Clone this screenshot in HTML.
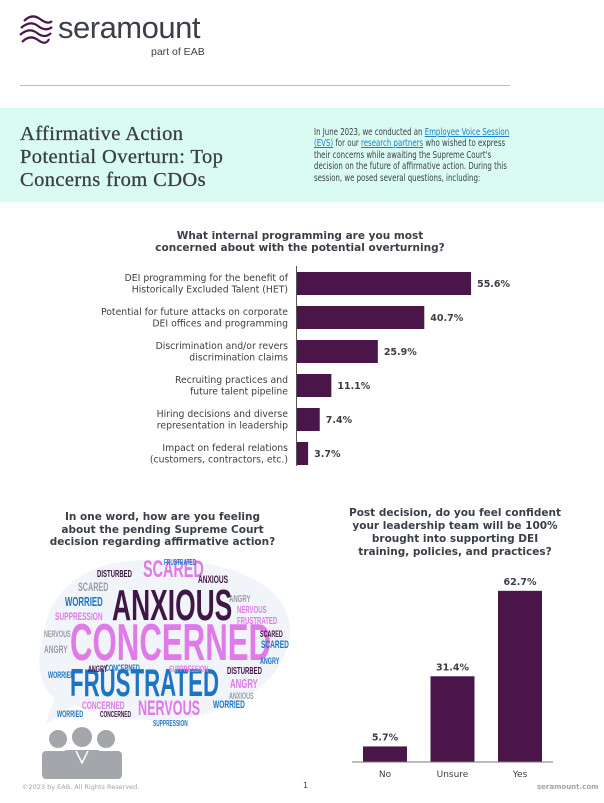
<!DOCTYPE html>
<html><head><meta charset="utf-8">
<style>
*{margin:0;padding:0;box-sizing:border-box}
body{width:604px;height:803px;background:#fff;position:relative;overflow:hidden;font-family:"DejaVu Sans","Liberation Sans",sans-serif;color:#3a3f4a}
.abs{position:absolute}
.wc span{position:absolute;font-family:"Liberation Sans Narrow","Liberation Sans",sans-serif;font-weight:bold;line-height:1;white-space:nowrap;transform-origin:0 0}
</style></head><body>
<div class="abs" style="left:18px;top:10px;width:240px;height:50px">
<svg width="36" height="38" style="position:absolute;left:0;top:1px">
<g fill="none" stroke="#4a1548" stroke-width="2.2">
<path d="M6 10 Q14 2 22 8 T34 10"/><path d="M3 17 Q12 9 20 15 T34 16"/><path d="M2 24 Q11 16 19 22 T33 22"/><path d="M4 31 Q12 23 20 29 T31 28"/></g></svg>
<div class="abs" style="left:40px;top:0px;font-family:'Liberation Sans',sans-serif;font-size:31px;color:#3b3f47;letter-spacing:-0.5px">seramount</div>
<div class="abs" style="left:133px;top:36px;font-family:'Liberation Sans',sans-serif;font-size:10.5px;color:#3b3f47">part of EAB</div>
</div>
<div class="abs" style="left:20px;top:85px;width:490px;height:1px;background:#b9bcc2"></div>
<div class="abs" style="left:0;top:108px;width:604px;height:94px;background:#dafbf1"></div>
<div class="abs" style="left:20px;top:123px;font-family:'Liberation Serif',serif;font-size:20.5px;line-height:23px;color:#3a3f47;width:260px;letter-spacing:0.4px;-webkit-text-stroke:0.3px #3a3f47">Affirmative Action<br>Potential Overturn: Top<br>Concerns from CDOs</div>
<div class="abs" style="left:314px;top:127px;white-space:nowrap;transform:scaleX(0.7);transform-origin:0 0;font-size:10px;line-height:11.4px;color:#3a3f47;font-family:'DejaVu Sans',sans-serif">In June 2023, we conducted an <a href="#" style="color:#1b82c9">Employee Voice Session</a><br><a href="#" style="color:#1b82c9">(EVS)</a> for our <a href="#" style="color:#1b82c9">research partners</a> who wished to express<br>their concerns while awaiting the Supreme Court's<br>decision on the future of affirmative action. During this<br>session, we posed several questions, including:</div>

<div class="abs" style="left:100px;top:230px;width:400px;text-align:center;font-weight:bold;font-size:10.5px;line-height:12px;color:#3a3f47">What internal programming are you most<br>concerned about with the potential overturning?</div>
<svg id="hbar" class="abs" style="left:0;top:0" width="604" height="480"></svg>

<div class="abs" style="left:20px;top:511px;width:285px;text-align:center;font-weight:bold;font-size:10.5px;line-height:12.5px;color:#3a3f47">In one word, how are you feeling<br>about the pending Supreme Court<br>decision regarding affirmative action?</div>
<div class="abs wc" style="left:0;top:0;width:310px;height:803px">
<svg width="310" height="803" style="position:absolute;left:0;top:0"><path d="M150 560 C240 558 290 590 290 630 C290 680 230 720 160 720 C120 720 95 715 75 705 L45 725 L55 698 C30 680 40 640 50 610 C70 570 110 560 150 560 Z" fill="#f1f4f9"/></svg>
<div id="words"></div>
</div>
<svg class="abs" style="left:42px;top:727px" width="80" height="52">
<g fill="#a3a6ab"><circle cx="16" cy="12" r="9"/><circle cx="64" cy="12" r="9"/><rect x="0" y="24" width="30" height="28" rx="4"/><rect x="50" y="24" width="30" height="28" rx="4"/><circle cx="40" cy="10" r="10"/><rect x="20" y="23" width="40" height="29" rx="5"/></g>
<path d="M34 24 L40 36 L46 24" stroke="#fff" stroke-width="1.5" fill="none"/></svg>

<div class="abs" style="left:310px;top:507px;width:290px;text-align:center;font-weight:bold;font-size:10.5px;line-height:13px;color:#3a3f47">Post decision, do you feel confident<br>your leadership team will be 100%<br>brought into supporting DEI<br>training, policies, and practices?</div>
<svg id="vbar" class="abs" style="left:0;top:0" width="604" height="803"></svg>

<div class="abs" style="left:22px;top:783px;font-size:6.5px;color:#a0a3a8">©2023 by EAB. All Rights Reserved.</div>
<div class="abs" style="left:303px;top:781px;font-size:8px;color:#3a3f47">1</div>
<div class="abs" style="left:537px;top:783px;font-size:7px;font-weight:bold;color:#a0a3a8">seramount.com</div>
<script>
const hCategories=[["DEI programming for the benefit of","Historically Excluded Talent (HET)"],["Potential for future attacks on corporate","DEI offices and programming"],["Discrimination and/or revers","discrimination claims"],["Recruiting practices and","future talent pipeline"],["Hiring decisions and diverse","representation in leadership"],["Impact on federal relations","(customers, contractors, etc.)"]];
const hValues=[55.6,40.7,25.9,11.1,7.4,3.7];
const vCategories=["No","Unsure","Yes"];
const vValues=[5.7,31.4,62.7];
const NS="http://www.w3.org/2000/svg";
function mk(p,t,a,txt){const e=document.createElementNS(NS,t);for(const k in a)e.setAttribute(k,a[k]);if(txt!=null)e.textContent=txt;p.appendChild(e);return e;}
const hb=document.getElementById('hbar');
const x0=296.5,xs=v=>x0+v*3.14,rowY=i=>272+i*34;
hValues.forEach((v,i)=>{
 const r=mk(hb,'rect',{x:x0,y:rowY(i),width:xs(v)-x0,height:23,fill:'#4a1548'});
 
 
 const t=mk(hb,'text',{x:xs(v)+6,y:rowY(i)+15,'font-size':'9.5','font-weight':'bold',fill:'#3a3f47','font-family':'DejaVu Sans,sans-serif'},v.toFixed(1)+'%');
 
 
 hCategories[i].forEach((l,j)=>{
  const c=mk(hb,'text',{x:288,y:rowY(i)+9+j*11.5,'text-anchor':'end','font-size':'9.3',fill:'#3a3f47','font-family':'DejaVu Sans,sans-serif'},l);
  
  
 });
});
mk(hb,'line',{x1:296.5,x2:296.5,y1:266,y2:466,stroke:'#555',"stroke-width":1});
const vb=document.getElementById('vbar');
const base=762,ys=v=>base-v*2.73,colX=i=>363+i*67.5;
vValues.forEach((v,i)=>{
 const r=mk(vb,'rect',{x:colX(i),y:ys(v),width:44,height:base-ys(v),fill:'#4a1548'});
 
 
 const t=mk(vb,'text',{x:colX(i)+22,y:ys(v)-6,'text-anchor':'middle','font-size':'9.5','font-weight':'bold',fill:'#3a3f47','font-family':'DejaVu Sans,sans-serif'},v.toFixed(1)+'%');
 
 
 const c=mk(vb,'text',{x:colX(i)+22,y:777,'text-anchor':'middle','font-size':'9',fill:'#3a3f47','font-family':'DejaVu Sans,sans-serif'},vCategories[i]);
 
 
});
mk(vb,'line',{x1:352,x2:553,y1:762,y2:762,stroke:'#777',"stroke-width":1});
// word cloud
const W=[["ANXIOUS",112,584,44,'#3f1744',0.6],["CONCERNED",70,617,52,'#e07ae8',0.6],["FRUSTRATED",70,664,39,'#1d73c4',0.57],["SCARED",143,558,24,'#e07ae8',0.6],["NERVOUS",138,698,21,'#e07ae8',0.6],["WORRIED",65,595,13,'#1d73c4',0.6],["SUPPRESSION",55,612,11,'#e07ae8',0.6],["DISTURBED",97,570,10,'#3f1744',0.6],["ANXIOUS",198,575,11,'#3f1744',0.6],["SCARED",78,581,12,'#9a9ca1',0.6],["ANGRY",229,595,10,'#9a9ca1',0.6],["NERVOUS",237,606,10,'#e07ae8',0.6],["FRUSTRATED",237,617,10,'#e07ae8',0.6],["SCARED",260,630,9,'#3f1744',0.6],["SCARED",261,640,11,'#1d73c4',0.6],["ANGRY",260,657,9,'#1d73c4',0.6],["DISTURBED",227,667,10,'#3f1744',0.6],["ANGRY",230,677,13,'#e07ae8',0.6],["WORRIED",213,700,11,'#1d73c4',0.6],["CONCERNED",82,701,11,'#e07ae8',0.6],["ANGRY",44,645,11,'#9a9ca1',0.6],["WORRIED",48,671,9,'#1d73c4',0.6],["NERVOUS",44,630,9,'#9a9ca1',0.6],["WORRIED",57,710,9,'#1d73c4',0.6],["FRUSTRATED",164,559,8,'#1d73c4',0.6],["SUPPRESSION",153,720,8,'#1d73c4',0.6],["CONCERNED",105,664,9,'#1d73c4',0.6],["ANGRY",88,665,9,'#3f1744',0.6],["SUPPRESSION",169,665,9,'#e07ae8',0.6],["CONCERNED",100,711,8,'#3f1744',0.6],["ANXIOUS",229,692,9,'#9a9ca1',0.6]];
const wd=document.getElementById('words');
W.forEach(w=>{const s=document.createElement('span');s.textContent=w[0];s.style.left=w[1]+'px';s.style.top=w[2]+'px';s.style.fontSize=w[3]+'px';s.style.color=w[4];s.style.transform='scaleX('+w[5]+')';


wd.appendChild(s);});
</script>
</body></html>
